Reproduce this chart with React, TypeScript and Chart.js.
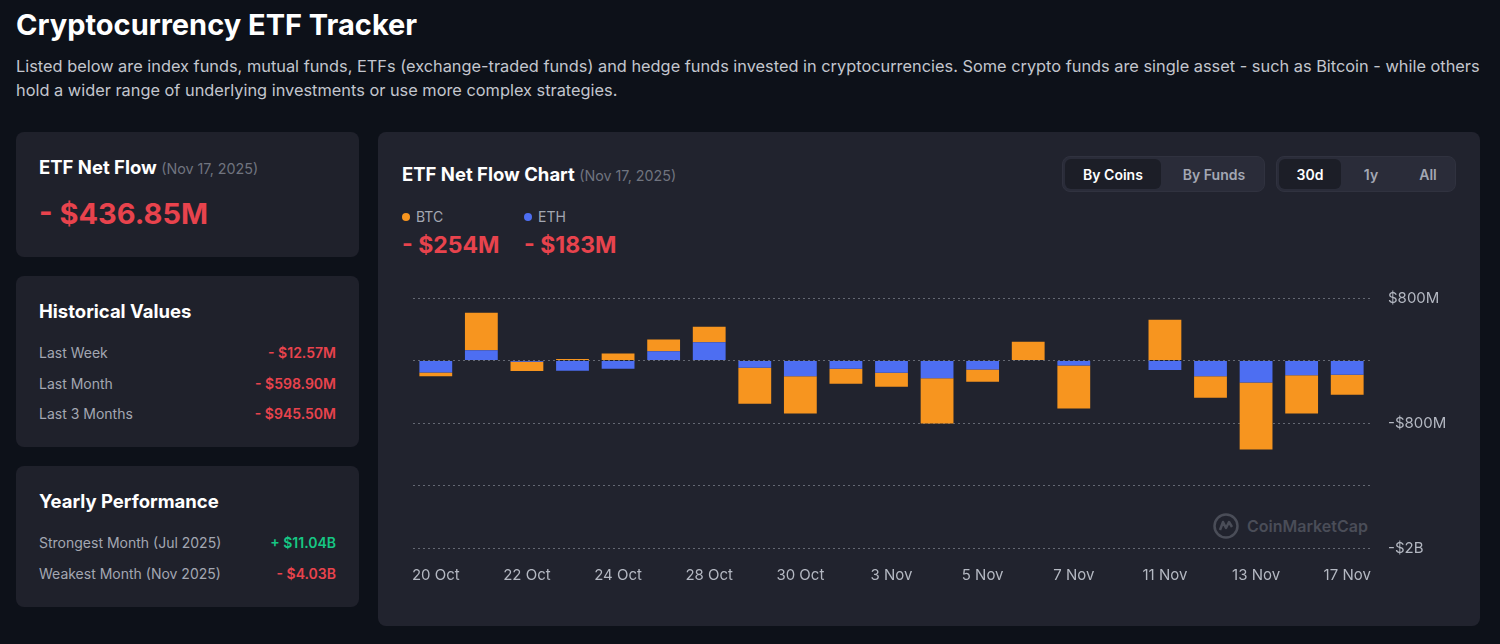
import React, { useEffect, useRef } from "react";
import { Chart, registerables } from "chart.js";

Chart.register(...registerables);

const categories = [
  "20 Oct", "21 Oct", "22 Oct", "23 Oct", "24 Oct", "27 Oct", "28 Oct", "29 Oct", "30 Oct", "31 Oct",
  "3 Nov", "4 Nov", "5 Nov", "6 Nov", "7 Nov", "10 Nov", "11 Nov", "12 Nov", "13 Nov", "14 Nov", "17 Nov",
];
// values in millions USD
const ethFlows = [-155, 130, -15, -130, -105, 120, 235, -94, -200, -107, -158, -226, -115, 0, -64, 0, -120, -200, -282, -188, -183];
const btcFlows = [-45, 480, -120, 20, 90, 150, 196, -461, -478, -192, -179, -580, -158, 239, -550, 0, 521, -277, -858, -491, -254];
const yTickValues = [-2400, -1600, -800, 0, 800];
const yTickLabels = ["-$2B", "", "-$800M", "", "$800M"];

const historicalRows = [
  ["Last Week", "- $12.57M"],
  ["Last Month", "- $598.90M"],
  ["Last 3 Months", "- $945.50M"],
];
const yearlyRows = [
  ["Strongest Month (Jul 2025)", "+ $11.04B", true],
  ["Weakest Month (Nov 2025)", "- $4.03B", false],
];

const FONT = "Inter, 'Noto Sans', sans-serif";
const RED = "#e8434d";
const GREEN = "#16c784";
const ORANGE = "#f7951f";
const BLUE = "#4d6ef2";

function NetFlowChart() {
  const ref = useRef<HTMLCanvasElement>(null);
  useEffect(() => {
    if (!ref.current) return;
    const chart = new Chart(ref.current, {
      type: "bar",
      data: {
        labels: categories,
        datasets: [
          { label: "ETH", data: ethFlows, backgroundColor: BLUE, borderWidth: 0 },
          { label: "BTC", data: btcFlows, backgroundColor: ORANGE, borderWidth: 0 },
        ],
      },
      options: {
        animation: false,
        responsive: true,
        maintainAspectRatio: false,
        layout: { padding: { left: 13, top: 10, right: 25, bottom: 0 } },
        plugins: { legend: { display: false }, title: { display: false }, tooltip: { enabled: false } },
        datasets: { bar: { barPercentage: 0.72, categoryPercentage: 1 } },
        scales: {
          x: {
            stacked: true,
            grid: { display: false, drawTicks: false, tickLength: 0 },
            border: { display: false },
            ticks: {
              autoSkip: false,
              maxRotation: 0,
              padding: 18,
              color: "#b4b8c2",
              font: { family: FONT, size: 15 },
              callback: (_v: any, i: number) => (i % 2 === 0 ? categories[i] : ""),
            },
            afterFit: (s: any) => { s.height = 50; s.paddingLeft = 0; s.paddingRight = 0; },
          },
          y: {
            stacked: true,
            position: "right",
            min: -2400,
            max: 800,
            afterBuildTicks: (s: any) => { s.ticks = yTickValues.map((v) => ({ value: v })); },
            grid: { color: "#646873", lineWidth: 1, drawTicks: false, tickLength: 0 },
            border: { display: false, dash: [2, 3] },
            ticks: {
              padding: 18,
              color: "#b4b8c2",
              font: { family: FONT, size: 15 },
              callback: (_v: any, i: number) => yTickLabels[i],
            },
            afterFit: (s: any) => { s.width = 75; s.paddingTop = 0; s.paddingBottom = 0; },
          },
        },
      },
    } as any);
    return () => chart.destroy();
  }, []);
  return <canvas ref={ref} style={{ display: "block" }} />;
}

const card: React.CSSProperties = {
  position: "absolute",
  background: "#1f212b",
  borderRadius: 8,
  boxSizing: "border-box",
};

function Toggle({ left, width, items }: { left: number; width: number; items: [string, number, number, boolean][] }) {
  return (
    <div style={{ position: "absolute", left, top: 156, width, height: 36, background: "#2a2c39", borderRadius: 8, boxSizing: "border-box", border: "1px solid #30323f" }}>
      {items.map(([t, x, w, active]) => (
        <div key={t} style={{ position: "absolute", left: x, top: 2, width: w, height: 30, borderRadius: 6, background: active ? "#1c1e27" : "transparent", color: active ? "#ffffff" : "#a3a7b3", fontSize: 14, fontWeight: 600, display: "flex", alignItems: "center", justifyContent: "center" }}>{t}</div>
      ))}
    </div>
  );
}

export default function App() {
  return (
    <div style={{ position: "absolute", left: 0, top: 0, width: 1500, height: 644, background: "#0d1119", fontFamily: FONT, overflow: "hidden", color: "#fff" }}>
      <div style={{ position: "absolute", left: 16, top: 6, fontSize: 29, fontWeight: 700, lineHeight: "38px", whiteSpace: "nowrap" }}>Cryptocurrency ETF Tracker</div>
      <div style={{ position: "absolute", left: 16, top: 54, fontSize: 16.35, lineHeight: "24px", color: "#c3c6ce", whiteSpace: "nowrap" }}>
        Listed below are index funds, mutual funds, ETFs (exchange-traded funds) and hedge funds invested in cryptocurrencies. Some crypto funds are single asset - such as Bitcoin - while others
        <br />
        hold a wider range of underlying investments or use more complex strategies.
      </div>

      {/* Card 1 */}
      <div style={{ ...card, left: 16, top: 132, width: 343, height: 125 }}>
        <div style={{ position: "absolute", left: 23, top: 24, fontSize: 18.5, fontWeight: 700, whiteSpace: "nowrap" }}>
          ETF Net Flow <span style={{ fontSize: 14.3, fontWeight: 400, color: "#70747f" }}>(Nov 17, 2025)</span>
        </div>
        <div style={{ position: "absolute", left: 23, top: 64, fontSize: 29, fontWeight: 700, color: RED, whiteSpace: "nowrap" }}>- $436.85M</div>
      </div>

      {/* Card 2 */}
      <div style={{ ...card, left: 16, top: 276, width: 343, height: 171 }}>
        <div style={{ position: "absolute", left: 23, top: 24, fontSize: 18.5, fontWeight: 700 }}>Historical Values</div>
        {historicalRows.map(([l, v], i) => (
          <div key={l} style={{ position: "absolute", left: 23, right: 23, top: 68 + i * 30.5, fontSize: 14, display: "flex", justifyContent: "space-between" }}>
            <span style={{ color: "#a3a7b2" }}>{l}</span>
            <span style={{ color: RED, fontWeight: 600 }}>{v}</span>
          </div>
        ))}
      </div>

      {/* Card 3 */}
      <div style={{ ...card, left: 16, top: 466, width: 343, height: 141 }}>
        <div style={{ position: "absolute", left: 23, top: 24, fontSize: 18.5, fontWeight: 700 }}>Yearly Performance</div>
        {yearlyRows.map(([l, v, up]) => (
          <div key={l as string} style={{ position: "absolute", left: 23, right: 23, top: up ? 68 : 99, fontSize: 14, display: "flex", justifyContent: "space-between" }}>
            <span style={{ color: "#a3a7b2" }}>{l}</span>
            <span style={{ color: up ? GREEN : RED, fontWeight: 600 }}>{v}</span>
          </div>
        ))}
      </div>

      {/* Chart card */}
      <div style={{ ...card, left: 378, top: 132, width: 1102, height: 494, background: "#21232e" }}>
        <div style={{ position: "absolute", left: 24, top: 31, fontSize: 18.5, fontWeight: 700, whiteSpace: "nowrap" }}>
          ETF Net Flow Chart <span style={{ fontSize: 14.3, fontWeight: 400, color: "#70747f" }}>(Nov 17, 2025)</span>
        </div>
        <div style={{ position: "absolute", left: 24, top: 76, fontSize: 14, color: "#a3a7b2", display: "flex", alignItems: "center" }}>
          <span style={{ width: 8, height: 8, borderRadius: 4, background: ORANGE, marginRight: 6, display: "inline-block" }} />BTC
        </div>
        <div style={{ position: "absolute", left: 146, top: 76, fontSize: 14, color: "#a3a7b2", display: "flex", alignItems: "center" }}>
          <span style={{ width: 8, height: 8, borderRadius: 4, background: BLUE, marginRight: 6, display: "inline-block" }} />ETH
        </div>
        <div style={{ position: "absolute", left: 24, top: 99, fontSize: 23, fontWeight: 700, color: RED, whiteSpace: "nowrap" }}>- $254M</div>
        <div style={{ position: "absolute", left: 146, top: 99, fontSize: 23, fontWeight: 700, color: RED, whiteSpace: "nowrap" }}>- $183M</div>
      </div>

      <Toggle left={1062} width={203} items={[["By Coins", 2, 96, true], ["By Funds", 102, 98, false]]} />
      <Toggle left={1276} width={180} items={[["30d", 2, 62, true], ["1y", 66, 56, false], ["All", 124, 54, false]]} />

      {/* watermark */}
      <div style={{ position: "absolute", left: 1212, top: 512, display: "flex", alignItems: "center", color: "#4a4d58", fontSize: 16, fontWeight: 600 }}>
        <svg width="28" height="28" viewBox="0 0 28 28" style={{ marginRight: 7 }}>
          <circle cx="14" cy="14" r="11.5" fill="none" stroke="#4a4d58" strokeWidth="2.5" />
          <path d="M8 18 L11 10 L14 16 L17 10 L20 15" fill="none" stroke="#4a4d58" strokeWidth="2.5" strokeLinejoin="round" />
        </svg>
        CoinMarketCap
      </div>

      <div style={{ position: "absolute", left: 400, top: 288, width: 1070, height: 310 }}>
        <NetFlowChart />
      </div>
    </div>
  );
}
